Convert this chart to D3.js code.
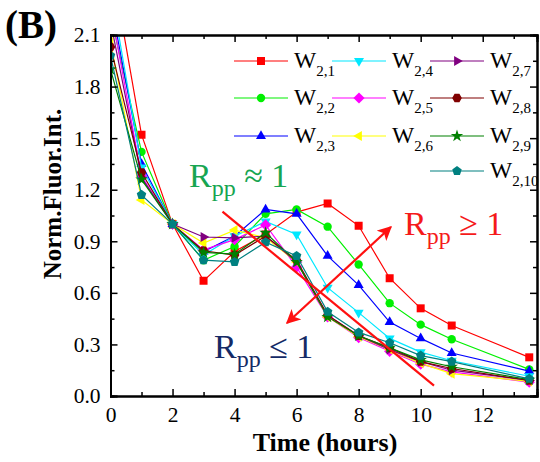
<!DOCTYPE html>
<html>
<head>
<meta charset="utf-8">
<script src="https://cdn.jsdelivr.net/npm/d3@7"></script>
<style>
  html, body { margin: 0; padding: 0; background: #fff; }
  svg { display: block; }
  text { font-family: "Liberation Serif", "Times New Roman", serif; }
</style>
</head>
<body>
<svg id="chart" width="540" height="462"></svg>
<script>
// Sampling times (hours)
const times = [0, 1, 2, 3, 4, 5, 6, 7, 8, 9, 10, 11, 13.5];

// Normalised fluorescence intensity for each well
const W21  = [2.55, 1.52, 1.00, 0.67, 0.84, 0.94, 1.07, 1.12, 0.99, 0.685, 0.51, 0.41, 0.225];
const W22  = [2.22, 1.42, 1.00, 0.79, 0.87, 1.06, 1.085, 0.985, 0.765, 0.54, 0.415, 0.33, 0.155];
const W23  = [2.30, 1.35, 1.00, 0.84, 0.93, 1.085, 1.06, 0.815, 0.645, 0.43, 0.335, 0.25, 0.145];
const W24  = [2.38, 1.33, 1.00, 0.82, 0.93, 1.015, 0.94, 0.63, 0.485, 0.335, 0.255, 0.205, 0.115];
const W25  = [2.26, 1.28, 1.00, 0.85, 0.91, 0.995, 0.75, 0.46, 0.34, 0.26, 0.185, 0.14, 0.08];
const W26  = [2.06, 1.14, 1.00, 0.89, 0.965, 0.92, 0.78, 0.46, 0.345, 0.27, 0.19, 0.13, 0.085];
const W27  = [2.18, 1.27, 1.00, 0.925, 0.92, 0.93, 0.78, 0.47, 0.35, 0.27, 0.20, 0.15, 0.09];
const W28  = [2.03, 1.30, 1.00, 0.845, 0.82, 0.93, 0.79, 0.47, 0.35, 0.28, 0.20, 0.16, 0.09];
const W29  = [1.90, 1.26, 1.00, 0.835, 0.825, 0.95, 0.78, 0.46, 0.35, 0.28, 0.21, 0.17, 0.095];
const W210 = [1.98, 1.17, 1.00, 0.79, 0.78, 0.895, 0.815, 0.49, 0.37, 0.31, 0.235, 0.20, 0.10];

const seriesNames = ["2,1", "2,2", "2,3", "2,4", "2,5", "2,6", "2,7", "2,8", "2,9", "2,10"];
const seriesValues = [W21, W22, W23, W24, W25, W26, W27, W28, W29, W210];
const seriesColors = ["#ff0000", "#00f000", "#0000ff", "#00e8ff", "#ff00ff",
                      "#ffff00", "#800080", "#800000", "#008000", "#008080"];
const seriesMarkers = ["square", "circle", "triUp", "triDown", "diamond",
                       "triLeft", "triRight", "hexagon", "star", "pentagon"];

// Axis ticks
const yTicks = [0.0, 0.3, 0.6, 0.9, 1.2, 1.5, 1.8, 2.1];
const xTicks = [0, 2, 4, 6, 8, 10, 12];

// Guide line and double arrow separating the regimes (data units)
const guideLine = [[3.61, 1.072], [10.43, 0.06]];
const guideArrow = [[5.69, 0.425], [9.04, 0.983]];

const svg = d3.select("#chart");
const padL = 110.5, padR = 537, padT = 35, padB = 396;

const x = d3.scaleLinear().domain([0, 13.75]).range([padL, padR]);
const y = d3.scaleLinear().domain([0, 2.1]).range([padB, padT]);

// Marker shapes
function poly(n, r, rot) {
  const pts = [];
  for (let i = 0; i < n; i++) {
    const a = rot + i * 2 * Math.PI / n;
    pts.push([r * Math.cos(a), r * Math.sin(a)]);
  }
  return "M" + pts.map(p => p[0].toFixed(2) + "," + p[1].toFixed(2)).join("L") + "Z";
}
function markerPath(kind) {
  switch (kind) {
    case "square": return "M-4,-4H4V4H-4Z";
    case "circle": return d3.symbol(d3.symbolCircle, 55)();
    case "triUp": return poly(3, 5.8, -Math.PI / 2);
    case "triDown": return poly(3, 5.8, Math.PI / 2);
    case "triLeft": return poly(3, 5.8, Math.PI);
    case "triRight": return poly(3, 5.8, 0);
    case "diamond": return poly(4, 5.6, -Math.PI / 2);
    case "hexagon": return poly(6, 4.8, 0);
    case "pentagon": return poly(5, 5, -Math.PI / 2);
    case "star": return d3.symbol(d3.symbolStar, 48)();
  }
}

// Clip to the plotting frame
const defs = svg.append("defs");
defs.append("clipPath").attr("id", "plotClip")
  .append("rect").attr("x", padL).attr("y", padT)
  .attr("width", padR - padL).attr("height", padB - padT);

const plot = svg.append("g").attr("clip-path", "url(#plotClip)");
const line = d3.line().x(d => x(d[0])).y(d => y(d[1]));

seriesValues.forEach((vals, i) => {
  const pts = times.map((t, j) => [t, vals[j]]);
  const g = plot.append("g");
  g.append("path").attr("d", line(pts))
    .attr("fill", "none").attr("stroke", seriesColors[i]).attr("stroke-width", 1.2);
  g.selectAll("path.m").data(pts).enter().append("path")
    .attr("class", "m")
    .attr("d", markerPath(seriesMarkers[i]))
    .attr("transform", d => `translate(${x(d[0])},${y(d[1])})`)
    .attr("fill", seriesColors[i]);
});

// Regime guide line and double-headed arrow
plot.append("path").attr("d", line(guideLine))
  .attr("stroke", "#ff1010").attr("stroke-width", 2.2).attr("fill", "none");

defs.append("marker").attr("id", "arrowHead")
  .attr("viewBox", "0 0 10 10").attr("refX", 9).attr("refY", 5)
  .attr("markerWidth", 6.5).attr("markerHeight", 6.5).attr("markerUnits", "strokeWidth")
  .attr("orient", "auto-start-reverse")
  .append("path").attr("d", "M0,0L10,5L0,10L2.5,5Z").attr("fill", "#ff1010");

svg.append("path").attr("d", line(guideArrow))
  .attr("stroke", "#ff1010").attr("stroke-width", 2.2).attr("fill", "none")
  .attr("marker-start", "url(#arrowHead)").attr("marker-end", "url(#arrowHead)");

// Axes with inward ticks on all four sides
const minorY = d3.range(0.15, 2.1, 0.3);
const minorX = d3.range(1, 14, 2);
function drawAxes() {
  const ax = svg.append("g");
  ax.append("g").attr("transform", `translate(0,${padB})`)
    .call(d3.axisBottom(x).tickValues(xTicks).tickSize(-7).tickPadding(11).tickFormat(d3.format("d")));
  ax.append("g").attr("transform", `translate(0,${padT})`)
    .call(d3.axisTop(x).tickValues(xTicks).tickSize(-7).tickFormat(""));
  ax.append("g").attr("transform", `translate(${padL},0)`)
    .call(d3.axisLeft(y).tickValues(yTicks).tickSize(-7).tickPadding(10).tickFormat(d3.format(".1f")));
  ax.append("g").attr("transform", `translate(${padR},0)`)
    .call(d3.axisRight(y).tickValues(yTicks).tickSize(-7).tickFormat(""));
  // minor ticks
  ax.append("g").attr("transform", `translate(0,${padB})`)
    .call(d3.axisBottom(x).tickValues(minorX).tickSize(-4).tickFormat(""));
  ax.append("g").attr("transform", `translate(0,${padT})`)
    .call(d3.axisTop(x).tickValues(minorX).tickSize(-4).tickFormat(""));
  ax.append("g").attr("transform", `translate(${padL},0)`)
    .call(d3.axisLeft(y).tickValues(minorY).tickSize(-4).tickFormat(""));
  ax.append("g").attr("transform", `translate(${padR},0)`)
    .call(d3.axisRight(y).tickValues(minorY).tickSize(-4).tickFormat(""));
  ax.selectAll(".domain").attr("stroke", "#000").attr("stroke-width", 2);
  ax.selectAll(".tick line").attr("stroke", "#000").attr("stroke-width", 1.5);
  ax.selectAll(".tick text").attr("fill", "#000")
    .style("font-family", "'Liberation Serif','Times New Roman',serif").style("font-size", "21.5px");
}
drawAxes();

// Axis titles
svg.append("text").attr("x", 325).attr("y", 450.5)
  .attr("text-anchor", "middle").attr("font-weight", "bold").attr("font-size", 26)
  .text("Time (hours)");
svg.append("text").attr("transform", "translate(61,194) rotate(-90)")
  .attr("text-anchor", "middle").attr("font-weight", "bold").attr("font-size", 25)
  .text("Norm.Fluor.Int.");

// Panel label
svg.append("text").attr("x", 5).attr("y", 38)
  .attr("font-weight", "bold").attr("font-size", 39).text("(B)");

// Legend
const legendCols = [234, 332, 430];
const legendRows = [61, 98, 136, 171];
const legendPos = [[0, 0], [0, 1], [0, 2], [1, 0], [1, 1], [1, 2], [2, 0], [2, 1], [2, 2], [2, 3]];
seriesNames.forEach((name, i) => {
  const lx = legendCols[legendPos[i][0]], ly = legendRows[legendPos[i][1]];
  const g = svg.append("g");
  g.append("line").attr("x1", lx).attr("x2", lx + 54).attr("y1", ly).attr("y2", ly)
    .attr("stroke", seriesColors[i]).attr("stroke-width", 1.2);
  g.append("path").attr("d", markerPath(seriesMarkers[i]))
    .attr("transform", `translate(${lx + 27},${ly})`).attr("fill", seriesColors[i]);
  const t = g.append("text").attr("x", lx + 60).attr("y", ly + 7).attr("font-size", 23.5).attr("fill", "#000");
  t.append("tspan").text("W");
  t.append("tspan").attr("font-size", 15).attr("dy", 8).text(name);
});

// Regime labels
function regimeLabel(px, py, rel, color) {
  const t = svg.append("text").attr("x", px).attr("y", py).attr("font-size", 34).attr("fill", color);
  t.append("tspan").text("R");
  t.append("tspan").attr("font-size", 24).attr("dy", 9).text("pp");
  t.append("tspan").attr("dy", -9).text(" " + rel + " 1");
}
regimeLabel(189, 187, "\u2248", "#17a551");
regimeLabel(404, 235, "\u2265", "#f51a1a");
regimeLabel(214, 358, "\u2264", "#142a66");
</script>
</body>
</html>
